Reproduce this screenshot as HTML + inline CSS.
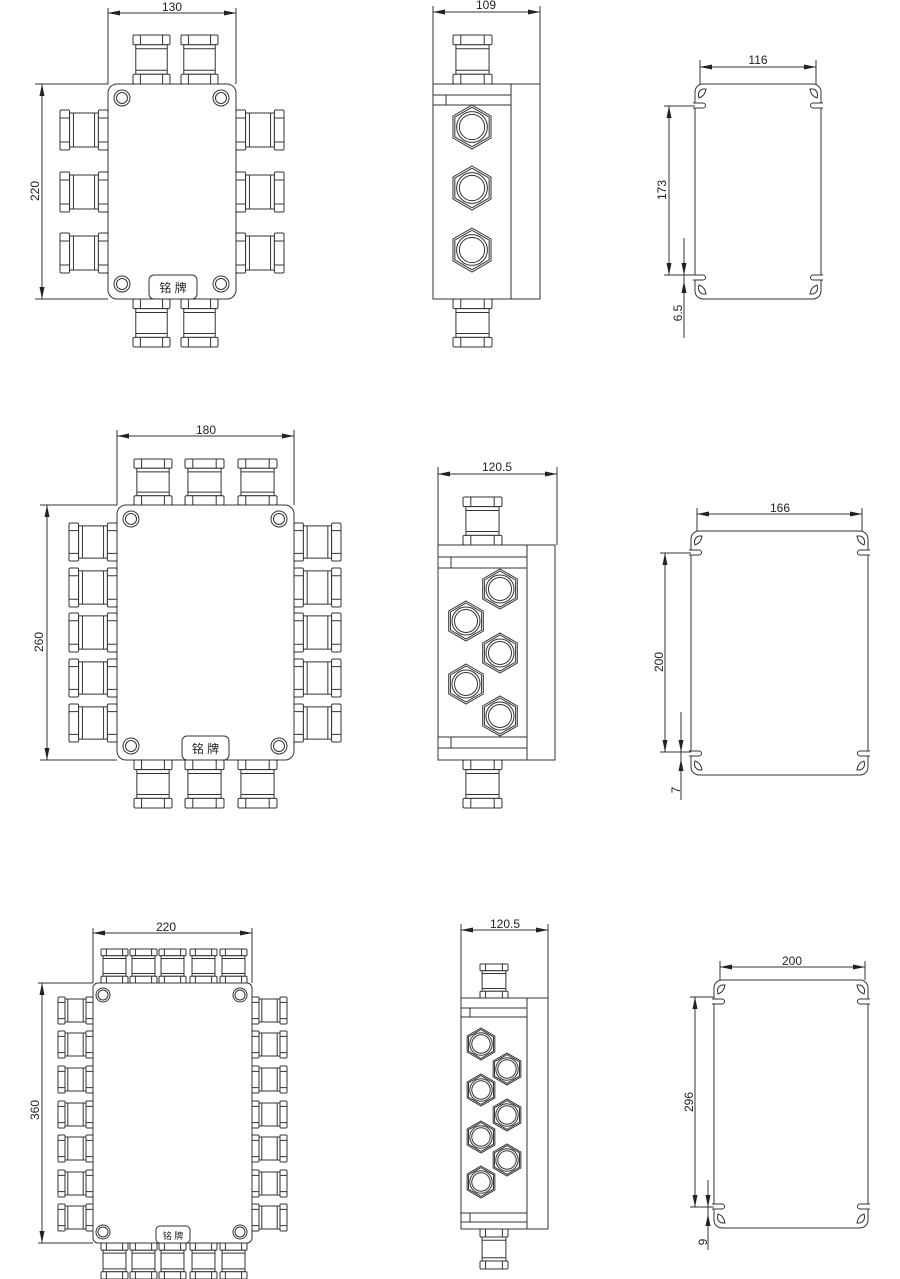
<!DOCTYPE html>
<html><head><meta charset="utf-8"><style>
html,body{margin:0;padding:0;background:#fff}
svg{display:block}
text{font-family:"Liberation Sans","Noto Sans CJK SC",sans-serif;fill:#222}
</style></head><body>
<svg width="900" height="1279" viewBox="0 0 900 1279" xmlns="http://www.w3.org/2000/svg">
<defs>
<marker id="a" viewBox="0 0 12 6" refX="12" refY="3" markerWidth="12" markerHeight="6" markerUnits="userSpaceOnUse" orient="auto-start-reverse"><path d="M12,3 L0,0.5 L0,5.5 Z" fill="#222"/></marker>
<symbol id="gv" viewBox="0 0 40 50" preserveAspectRatio="none" overflow="visible">
<g fill="#fff" stroke="#333" stroke-width="1">
<rect x="0" y="0" width="40" height="10" rx="1.5" vector-effect="non-scaling-stroke"/>
<rect x="3" y="10" width="34" height="30" vector-effect="non-scaling-stroke"/>
<rect x="0" y="40" width="40" height="10" rx="1.5" vector-effect="non-scaling-stroke"/>
<path d="M8,0V10M32,0V10M8,40V50M32,40V50M3,14H37M3,36H37" vector-effect="non-scaling-stroke"/>
</g></symbol>
<symbol id="gh" viewBox="0 0 50 40" preserveAspectRatio="none" overflow="visible">
<g fill="#fff" stroke="#333" stroke-width="1">
<rect x="0" y="0" width="10" height="40" rx="1.5" vector-effect="non-scaling-stroke"/>
<rect x="10" y="3" width="30" height="34" vector-effect="non-scaling-stroke"/>
<rect x="40" y="0" width="10" height="40" rx="1.5" vector-effect="non-scaling-stroke"/>
<path d="M0,8H10M0,32H10M40,8H50M40,32H50M14,3V37M36,3V37" vector-effect="non-scaling-stroke"/>
</g></symbol>
<symbol id="hx" viewBox="-20 -20 40 40" overflow="visible">
<g fill="#fff" stroke="#333" stroke-width="1">
<polygon points="0,-20 17.3,-10 17.3,10 0,20 -17.3,10 -17.3,-10" vector-effect="non-scaling-stroke"/>
<polygon points="0,-18 15.6,-9 15.6,9 0,18 -15.6,9 -15.6,-9" vector-effect="non-scaling-stroke"/>
<circle r="14" vector-effect="non-scaling-stroke"/>
<circle r="11.5" vector-effect="non-scaling-stroke"/>
</g></symbol>
<g id="bolt"><circle r="8" fill="#fff" stroke="#333"/><circle r="5.5" fill="none" stroke="#333"/></g>
<g id="cn" fill="#fff" stroke="#333" stroke-width="1">
<path d="M-2,19 H8 A2.5,2.5 0 0 1 8,24 H-2"/>
<path d="M4,14 Q2,7 8,5 L11,5 Q10,12 4,14 Z"/>
</g>
</defs>

<g stroke="#333" stroke-width="1" fill="none">
<path d="M108,8V84M236,8V84M35,84H108M35,299H108"/>
<line x1="108" y1="13" x2="236" y2="13" marker-start="url(#a)" marker-end="url(#a)"/>
<line x1="42" y1="84" x2="42" y2="299" marker-start="url(#a)" marker-end="url(#a)"/>
</g>
<text x="172" y="11" font-size="12" text-anchor="middle">130</text>
<text transform="translate(39,191) rotate(-90)" font-size="12" text-anchor="middle">220</text>
<use href="#gv" x="133" y="35" width="37" height="49"/>
<use href="#gv" x="181" y="35" width="37" height="49"/>
<use href="#gv" x="133" y="299" width="37" height="48"/>
<use href="#gv" x="181" y="299" width="37" height="48"/>
<use href="#gh" x="60" y="110" width="48" height="40"/>
<use href="#gh" x="60" y="172" width="48" height="40"/>
<use href="#gh" x="60" y="233" width="48" height="40"/>
<use href="#gh" x="236" y="110" width="48" height="40"/>
<use href="#gh" x="236" y="172" width="48" height="40"/>
<use href="#gh" x="236" y="233" width="48" height="40"/>
<rect x="108" y="84" width="128" height="215" rx="9" fill="#fff" stroke="#333"/>
<use href="#bolt" x="122" y="98"/><use href="#bolt" x="221" y="98"/>
<use href="#bolt" x="122" y="284"/><use href="#bolt" x="221" y="284"/>
<rect x="149" y="275" width="48" height="24" rx="5" fill="#fff" stroke="#333"/>
<text x="173" y="292" font-size="12" text-anchor="middle">铭 牌</text>

<g stroke="#333" fill="none"><path d="M433,6V84M540,6V84"/>
<line x1="433" y1="12" x2="540" y2="12" marker-start="url(#a)" marker-end="url(#a)"/></g>
<text x="486" y="9" font-size="12" text-anchor="middle">109</text>
<use href="#gv" x="453" y="35" width="39" height="49"/>
<use href="#gv" x="453" y="299" width="39" height="48"/>
<rect x="433" y="84" width="107" height="215" fill="#fff" stroke="#333"/>
<path d="M511,84V299M433,95H511M433,105H511M446,95V105" stroke="#333" fill="none"/>
<use href="#hx" x="450" y="105" width="44" height="44"/>
<use href="#hx" x="450" y="166" width="44" height="44"/>
<use href="#hx" x="450" y="228" width="44" height="44"/>

<rect x="695" y="84" width="126" height="215" rx="8" fill="#fff" stroke="#333"/>
<use href="#cn" transform="translate(695,84)"/>
<use href="#cn" transform="translate(821,84) scale(-1,1)"/>
<use href="#cn" transform="translate(695,299) scale(1,-1)"/>
<use href="#cn" transform="translate(821,299) scale(-1,-1)"/>
<g stroke="#333" fill="none">
<path d="M700,60V84M816,60V84M664,106H695M664,275H695M684,238V338"/>
<line x1="700" y1="67" x2="816" y2="67" marker-start="url(#a)" marker-end="url(#a)"/>
<line x1="669" y1="106" x2="669" y2="275" marker-start="url(#a)" marker-end="url(#a)"/>
<line x1="684" y1="262" x2="684" y2="275" marker-end="url(#a)"/>
<line x1="684" y1="294" x2="684" y2="281" marker-end="url(#a)"/>
</g>
<text x="758" y="64" font-size="12" text-anchor="middle">116</text>
<text transform="translate(666,190) rotate(-90)" font-size="12" text-anchor="middle">173</text>
<text transform="translate(682,313) rotate(-90)" font-size="12" text-anchor="middle">6.5</text>

<g stroke="#333" fill="none">
<path d="M117,430V505M294,430V505M40,505H117M40,760H117"/>
<line x1="117" y1="436" x2="294" y2="436" marker-start="url(#a)" marker-end="url(#a)"/>
<line x1="47" y1="505" x2="47" y2="760" marker-start="url(#a)" marker-end="url(#a)"/>
</g>
<text x="206" y="434" font-size="12" text-anchor="middle">180</text>
<text transform="translate(43,642) rotate(-90)" font-size="12" text-anchor="middle">260</text>
<use href="#gv" x="134" y="459" width="38" height="46"/>
<use href="#gv" x="185" y="459" width="39" height="46"/>
<use href="#gv" x="238" y="459" width="39" height="46"/>
<use href="#gv" x="134" y="760" width="38" height="48"/>
<use href="#gv" x="185" y="760" width="39" height="48"/>
<use href="#gv" x="238" y="760" width="39" height="48"/>
<use href="#gh" x="69" y="523" width="48" height="38"/>
<use href="#gh" x="69" y="568" width="48" height="39"/>
<use href="#gh" x="69" y="613" width="48" height="39"/>
<use href="#gh" x="69" y="659" width="48" height="38"/>
<use href="#gh" x="69" y="704" width="48" height="38"/>
<use href="#gh" x="294" y="523" width="47" height="38"/>
<use href="#gh" x="294" y="568" width="47" height="39"/>
<use href="#gh" x="294" y="613" width="47" height="39"/>
<use href="#gh" x="294" y="659" width="47" height="38"/>
<use href="#gh" x="294" y="704" width="47" height="38"/>
<rect x="117" y="505" width="177" height="255" rx="9" fill="#fff" stroke="#333"/>
<use href="#bolt" x="131" y="519"/><use href="#bolt" x="279" y="519"/>
<use href="#bolt" x="131" y="746"/><use href="#bolt" x="279" y="746"/>
<rect x="182" y="736" width="47" height="24" rx="5" fill="#fff" stroke="#333"/>
<text x="205.5" y="753" font-size="12" text-anchor="middle">铭 牌</text>

<g stroke="#333" fill="none"><path d="M438,467V545M557,467V545"/>
<line x1="438" y1="474" x2="557" y2="474" marker-start="url(#a)" marker-end="url(#a)"/></g>
<text x="497" y="471" font-size="12" text-anchor="middle">120.5</text>
<use href="#gv" x="463" y="497" width="39" height="48"/>
<use href="#gv" x="463" y="760" width="39" height="48"/>
<rect x="438" y="545" width="117" height="215" fill="#fff" stroke="#333"/>
<path d="M527,545V760M438,557H527M438,568H527M451,557V568M438,737H527M438,748H527M451,737V748" stroke="#333" fill="none"/>
<use href="#hx" x="480" y="569" width="40" height="40"/>
<use href="#hx" x="446" y="601" width="40" height="40"/>
<use href="#hx" x="480" y="633" width="40" height="40"/>
<use href="#hx" x="446" y="664" width="40" height="40"/>
<use href="#hx" x="480" y="696" width="40" height="40"/>

<rect x="691" y="531" width="177" height="244" rx="8" fill="#fff" stroke="#333"/>
<use href="#cn" transform="translate(691,531)"/>
<use href="#cn" transform="translate(868,531) scale(-1,1)"/>
<use href="#cn" transform="translate(691,775) scale(1,-1)"/>
<use href="#cn" transform="translate(868,775) scale(-1,-1)"/>
<g stroke="#333" fill="none">
<path d="M697,508V531M862,508V531M660,553H691M660,752H691M681,712V800"/>
<line x1="697" y1="514" x2="862" y2="514" marker-start="url(#a)" marker-end="url(#a)"/>
<line x1="665" y1="553" x2="665" y2="752" marker-start="url(#a)" marker-end="url(#a)"/>
<line x1="681" y1="740" x2="681" y2="752" marker-end="url(#a)"/>
<line x1="681" y1="771" x2="681" y2="759" marker-end="url(#a)"/>
</g>
<text x="780" y="512" font-size="12" text-anchor="middle">166</text>
<text transform="translate(663,662) rotate(-90)" font-size="12" text-anchor="middle">200</text>
<text transform="translate(680,790) rotate(-90)" font-size="12" text-anchor="middle">7</text>

<g stroke="#333" fill="none">
<path d="M93,928V983M252,928V983M38,983H93M38,1243H93"/>
<line x1="93" y1="933" x2="252" y2="933" marker-start="url(#a)" marker-end="url(#a)"/>
<line x1="42" y1="983" x2="42" y2="1243" marker-start="url(#a)" marker-end="url(#a)"/>
</g>
<text x="166" y="931" font-size="12" text-anchor="middle">220</text>
<text transform="translate(39,1110) rotate(-90)" font-size="12" text-anchor="middle">360</text>
<use href="#gv" x="101" y="949" width="27" height="34"/>
<use href="#gv" x="130" y="949" width="27" height="34"/>
<use href="#gv" x="159" y="949" width="27" height="34"/>
<use href="#gv" x="190" y="949" width="27" height="34"/>
<use href="#gv" x="220" y="949" width="27" height="34"/>
<use href="#gv" x="101" y="1243" width="27" height="36"/>
<use href="#gv" x="130" y="1243" width="27" height="36"/>
<use href="#gv" x="159" y="1243" width="27" height="36"/>
<use href="#gv" x="190" y="1243" width="27" height="36"/>
<use href="#gv" x="220" y="1243" width="27" height="36"/>
<use href="#gh" x="58" y="997" width="35" height="27"/>
<use href="#gh" x="58" y="1031" width="35" height="27"/>
<use href="#gh" x="58" y="1066" width="35" height="27"/>
<use href="#gh" x="58" y="1101" width="35" height="27"/>
<use href="#gh" x="58" y="1135" width="35" height="27"/>
<use href="#gh" x="58" y="1170" width="35" height="27"/>
<use href="#gh" x="58" y="1204" width="35" height="27"/>
<use href="#gh" x="252" y="997" width="35" height="27"/>
<use href="#gh" x="252" y="1031" width="35" height="27"/>
<use href="#gh" x="252" y="1066" width="35" height="27"/>
<use href="#gh" x="252" y="1101" width="35" height="27"/>
<use href="#gh" x="252" y="1135" width="35" height="27"/>
<use href="#gh" x="252" y="1170" width="35" height="27"/>
<use href="#gh" x="252" y="1204" width="35" height="27"/>
<rect x="93" y="983" width="159" height="260" rx="5" fill="#fff" stroke="#333"/>
<circle cx="103" cy="995" r="7" fill="#fff" stroke="#333"/><circle cx="103" cy="995" r="5" fill="none" stroke="#333"/>
<circle cx="240" cy="995" r="7" fill="#fff" stroke="#333"/><circle cx="240" cy="995" r="5" fill="none" stroke="#333"/>
<circle cx="103" cy="1232" r="7" fill="#fff" stroke="#333"/><circle cx="103" cy="1232" r="5" fill="none" stroke="#333"/>
<circle cx="240" cy="1232" r="7" fill="#fff" stroke="#333"/><circle cx="240" cy="1232" r="5" fill="none" stroke="#333"/>
<rect x="156" y="1226" width="34" height="17" rx="4" fill="#fff" stroke="#333"/>
<text x="173" y="1239" font-size="9" text-anchor="middle">铭 牌</text>

<g stroke="#333" fill="none"><path d="M461,924V998M548,924V998"/>
<line x1="461" y1="930" x2="548" y2="930" marker-start="url(#a)" marker-end="url(#a)"/></g>
<text x="505" y="928" font-size="12" text-anchor="middle">120.5</text>
<use href="#gv" x="480" y="964" width="28" height="34"/>
<use href="#gv" x="480" y="1229" width="28" height="40"/>
<rect x="461" y="998" width="87" height="231" fill="#fff" stroke="#333"/>
<path d="M527,998V1229M461,1008H527M461,1017H527M470,1008V1017M461,1213H527M461,1222H527M470,1213V1222" stroke="#333" fill="none"/>
<use href="#hx" x="465" y="1028" width="32" height="32"/>
<use href="#hx" x="491" y="1053" width="32" height="32"/>
<use href="#hx" x="465" y="1074" width="32" height="32"/>
<use href="#hx" x="491" y="1099" width="32" height="32"/>
<use href="#hx" x="465" y="1121" width="32" height="32"/>
<use href="#hx" x="491" y="1144" width="32" height="32"/>
<use href="#hx" x="465" y="1166" width="32" height="32"/>

<rect x="714" y="980" width="154" height="248" rx="8" fill="#fff" stroke="#333"/>
<use href="#cn" transform="translate(714,980)"/>
<use href="#cn" transform="translate(868,980) scale(-1,1)"/>
<use href="#cn" transform="translate(714,1228) scale(1,-1)"/>
<use href="#cn" transform="translate(868,1228) scale(-1,-1)"/>
<g stroke="#333" fill="none">
<path d="M720,961V980M865,961V980M690,997H714M690,1207H714M708,1180V1250"/>
<line x1="720" y1="967" x2="865" y2="967" marker-start="url(#a)" marker-end="url(#a)"/>
<line x1="695" y1="997" x2="695" y2="1207" marker-start="url(#a)" marker-end="url(#a)"/>
<line x1="708" y1="1195" x2="708" y2="1207" marker-end="url(#a)"/>
<line x1="708" y1="1226" x2="708" y2="1214" marker-end="url(#a)"/>
</g>
<text x="792" y="965" font-size="12" text-anchor="middle">200</text>
<text transform="translate(693,1102) rotate(-90)" font-size="12" text-anchor="middle">296</text>
<text transform="translate(707,1242) rotate(-90)" font-size="12" text-anchor="middle">9</text>
</svg>
</body></html>
